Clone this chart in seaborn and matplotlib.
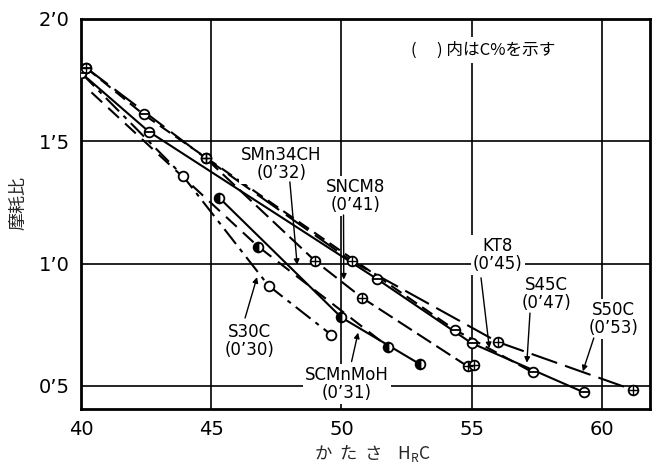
import matplotlib
matplotlib.use("Agg")
import matplotlib.pyplot as plt
import seaborn as sns
import pandas as pd

# Hardness HRC (x) and wear ratio (y) for each steel
s30c_x = [40.0, 43.9, 47.2, 49.6]
s30c_y = [1.78, 1.36, 0.91, 0.71]

scmnmoh_x = [40.4, 46.8, 51.8]
scmnmoh_y = [1.70, 1.07, 0.66]

smn34ch_x = [45.3, 50.0, 53.0]
smn34ch_y = [1.27, 0.78, 0.59]

sncm8_x = [44.8, 49.0, 50.8, 54.85, 55.1]
sncm8_y = [1.43, 1.01, 0.86, 0.58, 0.585]

kt8_x = [40.2, 42.4, 54.35, 57.34]
kt8_y = [1.80, 1.61, 0.73, 0.556]

s45c_x = [40.0, 42.6, 51.37, 55.0, 59.31]
s45c_y = [1.78, 1.54, 0.937, 0.675, 0.474]

s50c_x = [40.2, 44.8, 50.4, 56.0, 61.2]
s50c_y = [1.80, 1.43, 1.01, 0.68, 0.484]

x_ticks = [40, 45, 50, 55, 60]
y_ticks = [0.5, 1.0, 1.5, 2.0]
y_tick_labels = ["0’5", "1’0", "1’5", "2’0"]

sns.set_style("white")
plt.rcParams["font.family"] = ["DejaVu Sans", "Noto Sans CJK JP"]

fig = plt.figure(figsize=(6.56, 4.72), dpi=100)
ax = fig.add_axes([0.1235, 0.1335, 0.8674, 0.8263])

series = [
    # name, x, y, line style, marker kind, first point without marker
    ("S30C", s30c_x, s30c_y, (0, (9, 3, 2, 3)), "open", False),
    ("SCMnMoH", scmnmoh_x, scmnmoh_y, (0, (7, 4)), "half", True),
    ("SMn34CH", smn34ch_x, smn34ch_y, "-", "half", False),
    ("SNCM8", sncm8_x, sncm8_y, (0, (8, 3)), "plus", False),
    ("KT8", kt8_x, kt8_y, (0, (6, 3)), "minus", False),
    ("S45C", s45c_x, s45c_y, "-", "minus", False),
    ("S50C", s50c_x, s50c_y, (0, (13, 4)), "plus", False),
]


def draw_marks(ax, xs, ys, kind):
    common = dict(linestyle="none", color="black", markersize=7,
                  markeredgewidth=1.3, zorder=5)
    if kind == "half":
        ax.plot(xs, ys, marker="o", fillstyle="left",
                markerfacecolor="black", markerfacecoloralt="white", **common)
        return
    ax.plot(xs, ys, marker="o", markerfacecolor="white", **common)
    if kind == "plus":
        ax.plot(xs, ys, marker="+", linestyle="none", color="black",
                markersize=6.5, markeredgewidth=1.0, zorder=6)
    elif kind == "minus":
        ax.plot(xs, ys, marker="_", linestyle="none", color="black",
                markersize=6.5, markeredgewidth=1.3, zorder=6)


for name, xs, ys, ls, kind, skip_first in series:
    df = pd.DataFrame({"x": xs, "y": ys})
    sns.lineplot(data=df, x="x", y="y", ax=ax, color="black", linewidth=1.5,
                 linestyle=ls, sort=False, estimator=None, zorder=3)
    mx = xs[1:] if skip_first else xs
    my = ys[1:] if skip_first else ys
    draw_marks(ax, mx, my, kind)

ax.set_xlim(40, 61.85)
ax.set_ylim(0.406, 2.0)
ax.set_xticks(x_ticks)
ax.set_xticklabels([str(t) for t in x_ticks])
ax.set_yticks(y_ticks)
ax.set_yticklabels(y_tick_labels)
ax.tick_params(axis="both", length=0, labelsize=14, pad=8, colors="black")
ax.set_xlabel("")
ax.set_ylabel("")

for v in x_ticks[1:]:
    ax.axvline(v, color="black", linewidth=1.2, zorder=1)
for v in y_ticks[:-1]:
    ax.axhline(v, color="black", linewidth=1.2, zorder=1)

for side in ["left", "right", "top", "bottom"]:
    ax.spines[side].set_visible(True)
    ax.spines[side].set_color("black")
    ax.spines[side].set_linewidth(2.0)

lab = dict(ha="center", va="center", fontsize=12, color="black", zorder=7,
           linespacing=1.0, multialignment="center",
           bbox=dict(facecolor="white", edgecolor="none", pad=1.5))

# steel name with carbon content, label centre, arrow tail, arrow head
labels = [
    ("SMn34CH\n(0’32)", (47.7, 1.408), (48.02, 1.334), (48.3, 0.995)),
    ("SNCM8\n(0’41)", (50.53, 1.275), (50.08, 1.199), (50.09, 0.935)),
    ("KT8\n(0’45)", (56.0, 1.034), (55.36, 0.942), (55.68, 0.655)),
    ("S45C\n(0’47)", (57.86, 0.874), (57.24, 0.798), (57.12, 0.595)),
    ("S50C\n(0’53)", (60.45, 0.774), (59.69, 0.696), (59.27, 0.56)),
    ("S30C\n(0’30)", (46.48, 0.682), (46.30, 0.778), (46.76, 0.945)),
    ("SCMnMoH\n(0’31)", (50.21, 0.508), (50.39, 0.60), (50.64, 0.718)),
]
for text, pos, a_from, a_to in labels:
    ax.text(*pos, text, **lab)
    ax.annotate("", xy=a_to, xytext=a_from,
                arrowprops=dict(arrowstyle="-|>", color="black", lw=1.0,
                                mutation_scale=8, shrinkA=0, shrinkB=0),
                zorder=8)

ax.text(55.43, 1.873, "(　 ) 内はC%を示す", ha="center", va="center",
        fontsize=12, color="black", family=["Noto Sans CJK JP", "DejaVu Sans"],
        bbox=dict(facecolor="white", edgecolor="none", pad=3), zorder=7)

fig.text(0.568, 0.016, "か  た  さ    H$_\\mathregular{R}$C", ha="center",
         va="bottom", fontsize=12.5, family=["Noto Sans CJK JP", "DejaVu Sans"])
fig.text(0.028, 0.57, "摩耗比", ha="center", va="center", rotation=90,
         fontsize=13, family=["Noto Sans CJK JP", "DejaVu Sans"])

fig.savefig("out.png", dpi=100, facecolor="white")
